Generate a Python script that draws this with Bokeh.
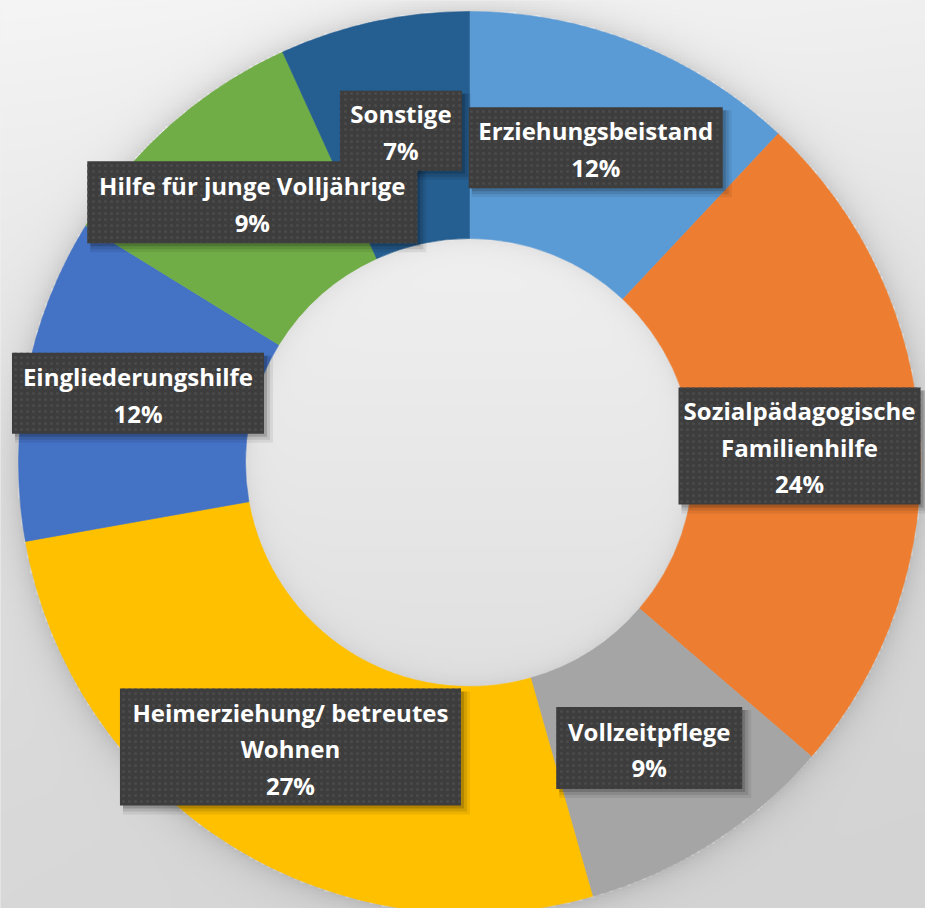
import numpy as np
from bokeh.plotting import figure
from bokeh.models import Range1d, ColumnDataSource
from bokeh.core.properties import value
from bokeh.embed import file_html
from bokeh.resources import INLINE

# ---------------- data ----------------
categories = [
    "Erziehungsbeistand",
    "Sozialpädagogische\nFamilienhilfe",
    "Vollzeitpflege",
    "Heimerziehung/ betreutes\nWohnen",
    "Eingliederungshilfe",
    "Hilfe für junge Volljährige",
    "Sonstige",
]
shares = [12.0, 24.3, 9.3, 26.6, 11.6, 9.4, 6.8]
colors = ["#5B9BD5", "#ED7D31", "#A5A5A5", "#FFC000", "#4472C4", "#70AD47", "#255E91"]

# ---------------- layout ----------------
W, H = 925, 908
CX, CY_S = 469, 462            # centre in screen px
CY = H - CY_S                  # centre in data units (y up)
R_OUT, R_IN = 451, 224
# small manual nudges of the data labels (screen px, dy down)
nudges = [(2, -1), (-7, 1.5), (-2, 1), (0, -1.5), (0, -6), (6, -7), (3, -2)]
box_sizes = [(254, 81), (242, 117), (186, 82), (341, 117), (252, 81), (330, 82), (122, 80)]
LINE_SP = 36.5

# ---------------- background (decorative gradient + shadows) ----------------
s = 3
PAD = 6
nx, ny = int(np.ceil((W + 2 * PAD) / s)), int(np.ceil((H + 2 * PAD) / s))
x0 = -PAD
y0 = H + PAD - ny * s
ii, jj = np.meshgrid(np.arange(nx), np.arange(ny))
sx = x0 + (ii + 0.5) * s
sy = H - (y0 + (jj + 0.5) * s)
d = np.sqrt((sx - CX) ** 2 + (sy - CY_S) ** 2)
t = np.clip(1 - sy / H, 0, 1)
base = 216 + 29 * t ** 1.5 - 5 * np.clip(sx / W, 0, 1)
outside = d > R_OUT
base = np.where(outside, base - 28 * np.exp(-(d - R_OUT) / 14.0), base)
inside = d < R_IN
hole = 240 - 16 * (sy - (CY_S - R_IN)) / (2 * R_IN) - 14 * np.exp(-(R_IN - d) / 10.0)
v = np.clip(np.where(inside, hole, base), 0, 255).astype(np.uint8)
img = np.empty((ny, nx), dtype=np.uint32)
view = img.view(dtype=np.uint8).reshape((ny, nx, 4))
view[..., 0] = v
view[..., 1] = v
view[..., 2] = v
view[..., 3] = 255

# ---------------- figure ----------------
p = figure(width=W, height=H, x_range=Range1d(0, W), y_range=Range1d(0, H),
           output_backend="svg", toolbar_location=None, min_border=0,
           x_axis_location=None, y_axis_location=None)
p.grid.visible = False
p.outline_line_color = None
p.border_fill_color = "#e6e6e6"
p.background_fill_color = "#e6e6e6"

p.image_rgba(image=[img], x=x0, y=y0, dw=nx * s, dh=ny * s)

# wedges
fr = np.array(shares) / sum(shares)
cum = np.concatenate([[0.0], np.cumsum(fr)])
start = np.pi / 2 - 2 * np.pi * cum[:-1]
end = np.pi / 2 - 2 * np.pi * cum[1:]
wsrc = ColumnDataSource(dict(start=start, end=end, color=colors))
p.annular_wedge(x=CX, y=CY, inner_radius=R_IN, outer_radius=R_OUT,
                start_angle="start", end_angle="end", direction="clock",
                fill_color="color", line_color="color", line_width=0.6, source=wsrc)

# label positions: slice mid-angle at mid-radius
mid = (cum[:-1] + cum[1:]) / 2
ang = np.pi / 2 - 2 * np.pi * mid
rm = (R_OUT + R_IN) / 2
bx = CX + rm * np.cos(ang) + np.array([n[0] for n in nudges])
by = CY + rm * np.sin(ang) - np.array([n[1] for n in nudges])
bw = np.array([b[0] for b in box_sizes], dtype=float)
bh = np.array([b[1] for b in box_sizes], dtype=float)

# box shadows
for off, grow, alpha in [(6, 6, 0.07), (4.5, 3, 0.10), (3, 0, 0.16)]:
    p.rect(x=bx + off, y=by - off, width=bw + grow, height=bh + grow,
           fill_color="black", fill_alpha=alpha, line_color=None)

# boxes
p.rect(x=bx, y=by, width=bw, height=bh, fill_color="#3d3d3d", line_color=None,
       hatch_pattern="dot", hatch_color="#4a4a4a", hatch_scale=6, hatch_weight=0.9)

# texts
tx, ty, tt = [], [], []
for k, cat in enumerate(categories):
    pct = shares[k] / sum(shares) * 100
    lines = cat.split("\n") + [f"{round(pct)}%"]
    n = len(lines)
    for m, ln in enumerate(lines):
        tx.append(bx[k])
        ty.append(by[k] - 1.5 - (m - (n - 1) / 2) * LINE_SP)
        tt.append(ln)
p.text(x=tx, y=ty, text=tt, text_color="white", text_font=value("Open Sans"),
       text_font_style="bold", text_font_size="24px",
       text_align="center", text_baseline="middle")

open("out.html", "w").write(file_html(p, INLINE))
